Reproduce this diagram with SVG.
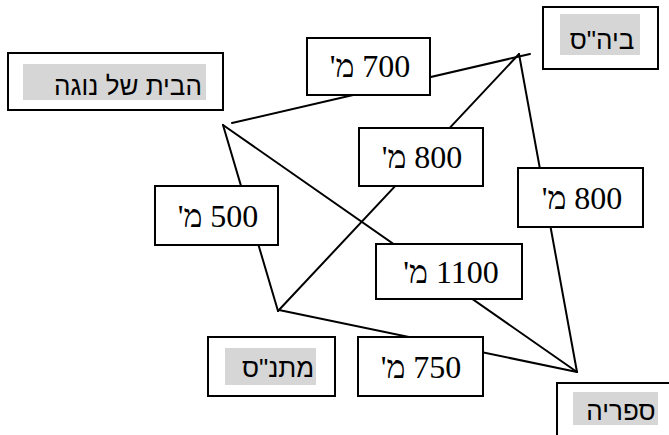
<svg xmlns="http://www.w3.org/2000/svg" width="669" height="435" viewBox="0 0 669 435">
<style>
.box{fill:#fff;stroke:#000;stroke-width:2}
.hl{fill:#d6d6d6}
.node{font-family:"Liberation Sans","DejaVu Sans",sans-serif;font-size:26px;fill:#000;text-anchor:middle}
.lab{font-family:"Liberation Serif","DejaVu Serif",serif;font-size:32px;fill:#000;text-anchor:middle}
.conn line{stroke:#000;stroke-width:2;stroke-linecap:round}
</style>
<rect width="669" height="435" fill="#fff"/>
<g class="conn" id="connectors">
<line x1="232" y1="123" x2="530" y2="54"/>
<line x1="223" y1="125" x2="577" y2="372"/>
<line x1="223" y1="125" x2="278" y2="311"/>
<line x1="519" y1="54" x2="278" y2="311"/>
<line x1="519" y1="54" x2="577" y2="372"/>
<line x1="279" y1="310" x2="577" y2="372"/>
</g>
<g id="node-home">
<rect class="box" x="8" y="53" width="215" height="57"/>
<rect class="hl" x="23" y="64" width="183" height="36"/>
<text class="node" x="128" y="95" direction="rtl">הבית של נוגה</text>
</g>
<g id="node-school">
<rect class="box" x="543" y="7" width="115" height="62"/>
<rect class="hl" x="560" y="14" width="80" height="41"/>
<text class="node" x="602" y="49" direction="rtl">ביה"ס</text>
</g>
<g id="node-community">
<rect class="box" x="208" y="337" width="127" height="59"/>
<rect class="hl" x="225" y="348" width="91" height="37"/>
<text class="node" x="278" y="377" direction="rtl">מתנ"ס</text>
</g>
<g id="node-library">
<rect class="box" x="557" y="383" width="130" height="70"/>
<rect class="hl" x="573" y="392" width="85" height="33"/>
<text class="node" x="621" y="420" direction="rtl">ספריה</text>
</g>
<g id="label-700">
<rect class="box" x="307" y="38" width="123" height="57"/>
<text class="lab" x="370" y="77" direction="rtl">700 מ'</text>
</g>
<g id="label-800a">
<rect class="box" x="359" y="128" width="124" height="58"/>
<text class="lab" x="422" y="168" direction="rtl">800 מ'</text>
</g>
<g id="label-500">
<rect class="box" x="155" y="186" width="123" height="59"/>
<text class="lab" x="218" y="227" direction="rtl">500 מ'</text>
</g>
<g id="label-800b">
<rect class="box" x="518" y="168" width="125" height="59"/>
<text class="lab" x="582" y="209" direction="rtl">800 מ'</text>
</g>
<g id="label-1100">
<rect class="box" x="376" y="244" width="146" height="55"/>
<text class="lab" x="451" y="283" direction="rtl">1100 מ'</text>
</g>
<g id="label-750">
<rect class="box" x="358" y="337" width="125" height="59"/>
<text class="lab" x="421" y="378" direction="rtl">750 מ'</text>
</g>
</svg>
